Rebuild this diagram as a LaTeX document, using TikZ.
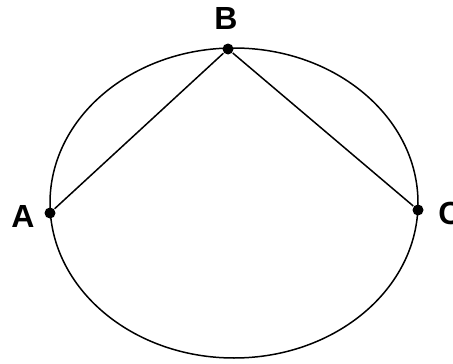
\documentclass[tikz,border=0pt]{standalone}
\usepackage{fontspec}
\setsansfont{Liberation Sans}

\begin{document}
\begin{tikzpicture}[x=1pt,y=-1pt, line width=1.5pt,
  every node/.style={font=\sffamily\bfseries\fontsize{32}{32}\selectfont},
  pt/.style={circle,fill=black,inner sep=0pt,minimum size=11pt}]
\useasboundingbox (0,0) rectangle (453,364);
\draw (234,203) ellipse [x radius=184, y radius=155];
\node[pt] (b) at (228,49) {};
\node[pt] (a) at (50,213) {};
\node[pt] (c) at (418,210) {};
\node (lb) at (226,18) {B};
\node (la) at (23,216) {A};
\node (lc) at (450,213) {C};
\draw (a) -- (b);
\draw (b) -- (c);
\end{tikzpicture}
\end{document}
